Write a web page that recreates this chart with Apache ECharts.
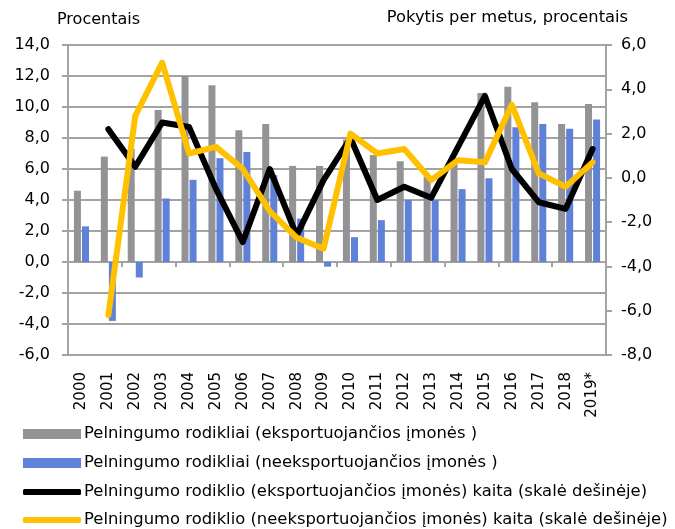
<!DOCTYPE html>
<html>
<head>
<meta charset="utf-8">
<script src="https://cdn.jsdelivr.net/npm/echarts@6/dist/echarts.min.js"></script>
<style>
  html, body { margin: 0; padding: 0; background: #fff; }
  #chart { width: 675px; height: 529px; }
</style>
</head>
<body>
<div id="chart"></div>
<script>
// years on the category axis
const years = ['2000', '2001', '2002', '2003', '2004', '2005', '2006', '2007', '2008', '2009',
  '2010', '2011', '2012', '2013', '2014', '2015', '2016', '2017', '2018', '2019*']

// left scale, percent
const exportersLevel = [4.6, 6.8, 7.3, 9.8, 12.0, 11.4, 8.5, 8.9, 6.2, 6.2,
  7.9, 6.9, 6.5, 5.5, 6.7, 10.9, 11.3, 10.3, 8.9, 10.2]
const nonExportersLevel = [2.3, -3.8, -1.0, 4.1, 5.3, 6.7, 7.1, 5.6, 2.8, -0.3,
  1.6, 2.7, 4.0, 4.0, 4.7, 5.4, 8.7, 8.9, 8.6, 9.2]

// right scale, yearly change
const exportersChange = [null, 2.2, 0.5, 2.5, 2.3, -0.5, -2.9, 0.4, -2.6, -0.1,
  1.8, -1.0, -0.4, -0.9, 1.4, 3.7, 0.4, -1.1, -1.4, 1.3]
const nonExportersChange = [null, -6.2, 2.8, 5.2, 1.1, 1.4, 0.4, -1.5, -2.7, -3.2,
  2.0, 1.1, 1.3, -0.1, 0.8, 0.7, 3.3, 0.2, -0.4, 0.7]

const seriesNames = [
  'Pelningumo rodikliai (eksportuojančios įmonės )',
  'Pelningumo rodikliai (neeksportuojančios įmonės )',
  'Pelningumo rodiklio (eksportuojančios įmonės) kaita (skalė dešinėje)',
  'Pelningumo rodiklio (neeksportuojančios įmonės) kaita (skalė dešinėje)'
]

const FONT = "'DejaVu Sans', sans-serif"
const GRID_COLOR = '#a3a3a3'

const chart = echarts.init(document.getElementById('chart'), null, { renderer: 'canvas' })

const fmt = v => v.toFixed(1).replace('.', ',')

const legendTops = [421, 450, 479, 507]
const legends = seriesNames.map((name, i) => ({
  data: [name],
  left: 18,
  top: legendTops[i],
  itemWidth: 58,
  itemHeight: i < 2 ? 10 : 6,
  itemGap: 4,
  icon: i < 2 ? 'rect' : 'roundRect',
  selectedMode: false,
  textStyle: { fontFamily: FONT, fontSize: 16.4, color: '#000', padding: [0, 0, 0, -2] }
}))

const option = {
  animation: false,
  textStyle: { fontFamily: FONT },
  title: [
    { text: 'Procentais', left: 52, top: 7, textStyle: { fontFamily: FONT, fontSize: 16, fontWeight: 'normal', color: '#000' } },
    { text: 'Pokytis per metus, procentais', right: 42, top: 5, textStyle: { fontFamily: FONT, fontSize: 16.3, fontWeight: 'normal', color: '#000' } }
  ],
  legend: legends,
  grid: { left: 68, right: 69, top: 45, bottom: 174, containLabel: false },
  xAxis: [
    {
      type: 'category',
      data: years,
      axisLine: { onZero: true, lineStyle: { color: GRID_COLOR, width: 2 } },
      axisTick: { show: true, length: 5, lineStyle: { color: GRID_COLOR, width: 2 } },
      axisLabel: { show: false }
    },
    {
      type: 'category',
      data: years,
      position: 'bottom',
      axisLine: { show: false },
      axisTick: { show: false },
      axisLabel: { rotate: 90, margin: 17, fontSize: 15, color: '#000', fontFamily: FONT, interval: 0 }
    }
  ],
  yAxis: [
    {
      type: 'value',
      min: -6, max: 14, interval: 2,
      axisLine: { show: true, lineStyle: { color: GRID_COLOR, width: 2 } },
      axisTick: { show: true, length: 6, lineStyle: { color: GRID_COLOR, width: 2 } },
      splitLine: { lineStyle: { color: GRID_COLOR, width: 2 } },
      axisLabel: { formatter: fmt, fontSize: 16, color: '#000', margin: 18, fontFamily: FONT }
    },
    {
      type: 'value',
      min: -8, max: 6, interval: 2,
      position: 'right',
      axisLine: { show: true, lineStyle: { color: GRID_COLOR, width: 2 } },
      axisTick: { show: true, length: 6, lineStyle: { color: GRID_COLOR, width: 2 } },
      splitLine: { show: false },
      axisLabel: { formatter: fmt, fontSize: 16, color: '#000', margin: 15, fontFamily: FONT }
    }
  ],
  series: [
    {
      name: seriesNames[0], type: 'bar', data: exportersLevel,
      barWidth: 7, barGap: '15%',
      itemStyle: { color: '#939397' }
    },
    {
      name: seriesNames[1], type: 'bar', data: nonExportersLevel,
      barWidth: 7,
      itemStyle: { color: '#5f81d8' }
    },
    {
      name: seriesNames[2], type: 'line', yAxisIndex: 1, data: exportersChange,
      symbol: 'none',
      lineStyle: { color: '#000', width: 6, cap: 'round', join: 'round' },
      itemStyle: { color: '#000' }
    },
    {
      name: seriesNames[3], type: 'line', yAxisIndex: 1, data: nonExportersChange,
      symbol: 'none',
      lineStyle: { color: '#ffc000', width: 6, cap: 'round', join: 'round' },
      itemStyle: { color: '#ffc000' }
    }
  ]
}

chart.setOption(option)
</script>
</body>
</html>
